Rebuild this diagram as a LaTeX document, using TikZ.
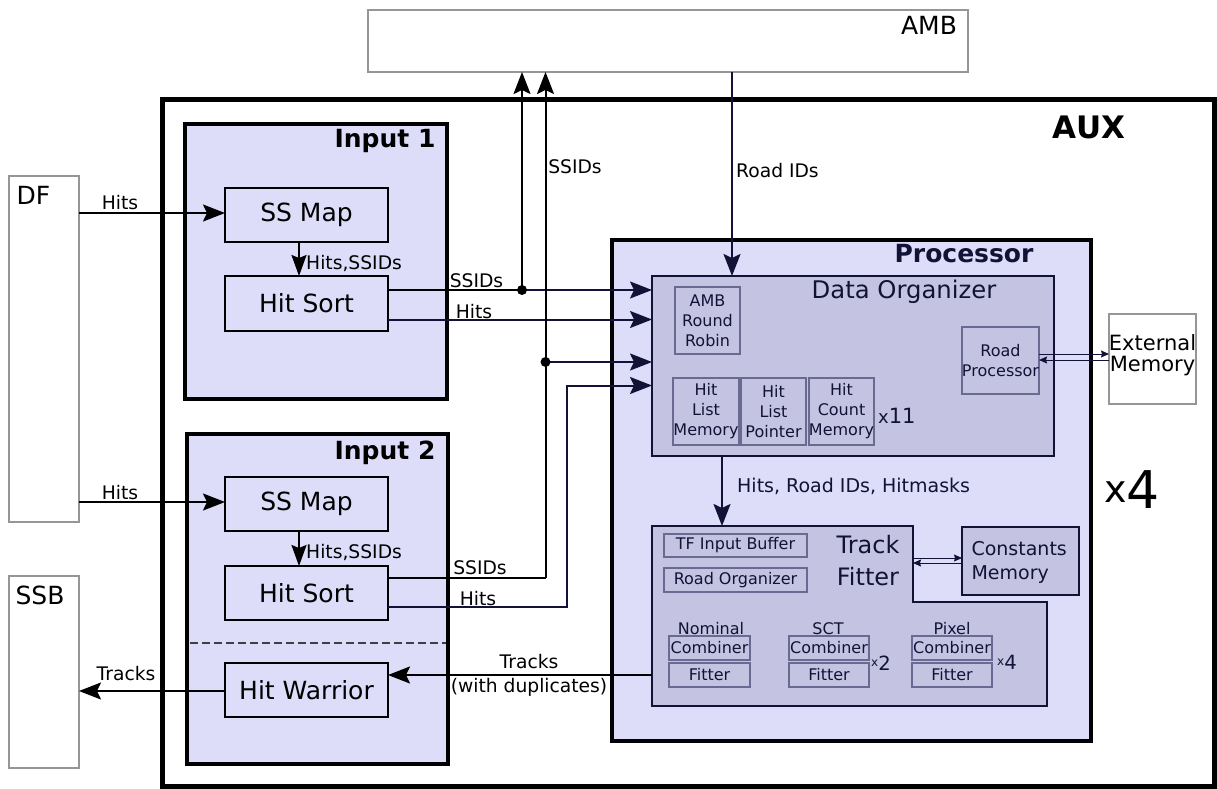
\documentclass[tikz,border=0pt]{standalone}
\usepackage{fontspec}
\setmainfont{DejaVu Sans}
\usetikzlibrary{arrows.meta,calc}
\definecolor{lav}{RGB}{221,221,250}
\definecolor{dofill}{RGB}{196,196,226}
\definecolor{navy}{RGB}{18,18,55}
\definecolor{subb}{RGB}{105,105,145}
\definecolor{gb}{RGB}{150,150,150}
\newcommand\fsz[2]{\fontsize{#1}{#2}\selectfont}
\begin{document}
\begin{tikzpicture}[x=1pt,y=-1pt,
  box/.style={draw,rectangle,inner sep=0pt,outer sep=0pt},
  ext/.style={box,draw=gb,line width=1.2pt,fill=white},
  inbox/.style={box,line width=3.5pt,fill=lav},
  blk/.style={box,line width=2.5pt,fill=lav,font=\fsz{25}{28}},
  sub/.style={box,draw=subb,line width=1.2pt,fill=dofill,text=navy,align=center,font=\fsz{16}{20}},
  lbl/.style={inner sep=0pt,font=\fsz{18.7}{22}},
  ln/.style={line width=2pt,draw=black},
  arrB/.style={ln,-{Stealth[length=22pt,width=17pt,inset=4pt]}},
  arrN/.style={line width=2pt,draw=navy,-{Stealth[length=22pt,width=17pt,inset=4pt]}},
  arrM/.style={ln,-{Stealth[length=21pt,width=15pt,inset=3pt]}},
  thin/.style={line width=1pt,draw=navy,-{Stealth[length=8pt,width=7pt,inset=1pt]}},
  dot/.style={circle,fill=black,inner sep=0pt,minimum size=10pt}
]
\useasboundingbox (0,0) rectangle (1217,789);
\fill[white] (0,0) rectangle (1217,789);

% external blocks
\node[ext,minimum width=600pt,minimum height=62pt] (amb) at (668,41) {};
\node[anchor=center,font=\fsz{25}{28}] (ambt) at (929,25) {AMB};
\node[ext,minimum width=70pt,minimum height=346pt] (df) at (44,349) {};
\node[anchor=west,font=\fsz{25}{28}] (dft) at (13,195) {DF};
\node[ext,minimum width=70pt,minimum height=192pt] (ssb) at (44,672) {};
\node[anchor=west,font=\fsz{25}{28}] (ssbt) at (12,595) {SSB};

% AUX
\node[box,line width=5pt,minimum width=1052pt,minimum height=686pt] (aux) at (688,443) {};
\node[font=\bfseries\fsz{31}{34}] (auxt) at (1089,127) {AUX};

% Input 1
\node[inbox,minimum width=262pt,minimum height=275pt] (in1) at (316,261.5) {};
\node[anchor=east,font=\bfseries\fsz{25}{28}] (in1t) at (439,141) {Input 1};
\node[blk,minimum width=163pt,minimum height=54pt] (ssmap1) at (306.5,215) {SS Map};
\node[blk,minimum width=163pt,minimum height=55pt] (hitsort1) at (306.5,303.5) {Hit Sort};

% Input 2
\node[inbox,minimum width=261pt,minimum height=330pt] (in2) at (317.5,599) {};
\node[anchor=east,font=\bfseries\fsz{25}{28}] (in2t) at (439,453) {Input 2};
\node[blk,minimum width=163pt,minimum height=54pt] (ssmap2) at (306.5,504) {SS Map};
\node[blk,minimum width=163pt,minimum height=54pt] (hitsort2) at (306.5,593) {Hit Sort};
\node[blk,minimum width=163pt,minimum height=54pt] (hitwarrior) at (306.5,690) {Hit Warrior};
\coordinate (dl) at (190,643);
\coordinate (dr) at (446,643);
\draw[line width=1.5pt,draw=black!75,dash pattern=on 8pt off 4pt] (dl) -- (dr);

% Processor
\node[box,line width=4pt,draw=black!95!navy,fill=lav,minimum width=479pt,minimum height=501pt] (proc) at (851.5,490.5) {};
\node[anchor=east,text=navy,font=\bfseries\fsz{25}{28}] (proct) at (1037,254) {Processor};

% Data organizer
\node[box,draw=navy,line width=2pt,fill=dofill,minimum width=402pt,minimum height=180pt] (do) at (853,366) {};
\node[text=navy,font=\fsz{24.3}{27}] (dot) at (904,292) {Data Organizer};
\node[sub,minimum width=65pt,minimum height=67pt] (amr) at (707.5,320.5) {AMB\\Round\\Robin};
\node[sub,minimum width=66pt,minimum height=67pt] (hlm) at (706,411.5) {Hit\\List\\Memory};
\node[sub,minimum width=65pt,minimum height=67pt] (hlp) at (773.5,411.5) {Hit\\List\\Pointer};
\node[sub,minimum width=65pt,minimum height=67pt] (hcm) at (841.5,411.5) {Hit\\Count\\Memory};
\node[anchor=west,inner sep=0pt,text=navy] (x11) at (878,416) {{\fsz{18}{20}x}{\fsz{21}{24}11}};
\node[sub,minimum width=77pt,minimum height=67pt] (rp) at (1000.5,360.5) {Road\\Processor};
\node[ext,minimum width=87pt,minimum height=90pt] (extmem) at (1152.5,359) {};
\node[align=center,inner sep=0pt,font=\fsz{21}{21}] (extt) at (1152.5,355) {External\\Memory};

% Track fitter
\draw[draw=navy,line width=2pt,fill=dofill] (652,526) -- (913,526) -- (913,602) -- (1047,602) -- (1047,706) -- (652,706) -- cycle;
\coordinate (tfleft) at (652,675);
\coordinate (tftop) at (722,526);
\coordinate (tfr1) at (913,558);
\coordinate (tfr2) at (913,563);
\node[text=navy,align=center,font=\fsz{24}{32}] (tft) at (868,561) {Track\\Fitter};
\node[sub,minimum width=143pt,minimum height=23pt] (tfib) at (735.5,545.5) {TF Input Buffer};
\node[sub,minimum width=143pt,minimum height=24pt] (ro) at (735.5,580) {Road Organizer};
\node[box,draw=navy,line width=2pt,fill=dofill,minimum width=117pt,minimum height=68pt] (cm) at (1020.5,561) {};
\node[anchor=west,align=left,text=navy,font=\fsz{19}{24}] (cmt) at (968,562) {Constants\\Memory};

\node[sub,minimum width=81pt,minimum height=24pt] (nc) at (709.5,648) {Combiner};
\node[sub,minimum width=81pt,minimum height=24pt] (nf) at (709.5,675) {Fitter};
\node[sub,minimum width=80pt,minimum height=24pt] (sc) at (829,648) {Combiner};
\node[sub,minimum width=80pt,minimum height=24pt] (sf) at (829,675) {Fitter};
\node[sub,minimum width=80pt,minimum height=24pt] (pc) at (952,648) {Combiner};
\node[sub,minimum width=80pt,minimum height=24pt] (pf) at (952,675) {Fitter};
\node[text=navy,font=\fsz{16}{18}] (nl) at (711,629) {Nominal};
\node[text=navy,font=\fsz{16}{18}] (sl) at (828,629) {SCT};
\node[text=navy,font=\fsz{16}{18}] (pl) at (952,629) {Pixel};
\node[anchor=west,inner sep=0pt,text=navy] (x2) at (871,663) {\raisebox{4pt}{\fsz{12}{14}x}{\fsz{19.6}{22}2}};
\node[anchor=west,inner sep=0pt,text=navy] (x4s) at (997,662) {\raisebox{4pt}{\fsz{12}{14}x}{\fsz{19.6}{22}4}};

% big x4
\node[anchor=west,inner sep=0pt] (x4) at (1104,490) {\raisebox{6pt}{\fsz{38}{40}x}{\fsz{52}{54}4}};

% ---------------- connectors
\coordinate (rdx) at (732,0);
\draw[arrN] (amb.south -| rdx) -- (do.north -| rdx);
\node[lbl,anchor=west] (rdl) at (736,171) {Road IDs};

\draw[arrB] (df.east |- 0,213) -- (ssmap1.west |- 0,213);
\node[lbl] (h1l) at (120,203) {Hits};
\draw[arrB] (df.east |- 0,502) -- (ssmap2.west |- 0,502);
\node[lbl] (h2l) at (120,493) {Hits};

\coordinate (ax) at (299,0);
\draw[arrM] (ssmap1.south -| ax) -- (hitsort1.north -| ax);
\node[lbl,anchor=west] (hs1l) at (306,263) {Hits,SSIDs};
\draw[arrM] (ssmap2.south -| ax) -- (hitsort2.north -| ax);
\node[lbl,anchor=west] (hs2l) at (306,552) {Hits,SSIDs};

\coordinate (j1) at (522,290);
\coordinate (y2) at (0,319.5);
\coordinate (j2) at (545.5,362);
\coordinate (b2) at (545.5,577.5);
\coordinate (b3) at (567,606.5);
\coordinate (b3t) at (567,385.5);

\draw[ln] (hitsort1.east |- j1) -- (j1);
\draw[arrN] (j1) -- (do.west |- j1);
\draw[arrB] (j1) -- (amb.south -| j1);
\node[dot] (d1) at (j1) {};
\draw[arrN] (hitsort1.east |- y2) -- (do.west |- y2);
\node[lbl] (ss1l) at (476.5,281) {SSIDs};
\node[lbl] (hh1l) at (474,312) {Hits};

\draw[ln] (hitsort2.east |- b2) -- (b2);
\draw[arrB] (b2) -- (amb.south -| b2);
\draw[arrN] (j2) -- (do.west |- j2);
\node[dot] (d2) at (j2) {};
\draw[arrN] (hitsort2.east |- b3) -- (b3) -- (b3t) -- (do.west |- b3t);
\node[lbl] (ss2l) at (480,568) {SSIDs};
\node[lbl] (hh2l) at (478,599) {Hits};
\node[lbl] (ssvl) at (575,167) {SSIDs};

\draw[arrN] (do.south -| tftop) -- (tftop);
\node[lbl,anchor=west,text=navy,font=\fsz{19}{22}] (hrl) at (737,486) {Hits, Road IDs, Hitmasks};

\draw[thin] (rp.east |- 0,354) -- (extmem.west |- 0,354);
\draw[thin] (extmem.west |- 0,360) -- (rp.east |- 0,360);
\draw[thin] (tfr1) -- (cm.west |- tfr1);
\draw[thin] (cm.west |- tfr2) -- (tfr2);

\draw[arrB] (tfleft) -- (hitwarrior.east |- tfleft);
\node[lbl] (tr1) at (529,662) {Tracks};
\node[lbl] (tr2) at (529,687) {(with duplicates)};
\draw[arrB] (hitwarrior.west |- 0,691) -- (ssb.east |- 0,691);
\node[lbl] (tr3) at (126,674) {Tracks};
\end{tikzpicture}
\end{document}
